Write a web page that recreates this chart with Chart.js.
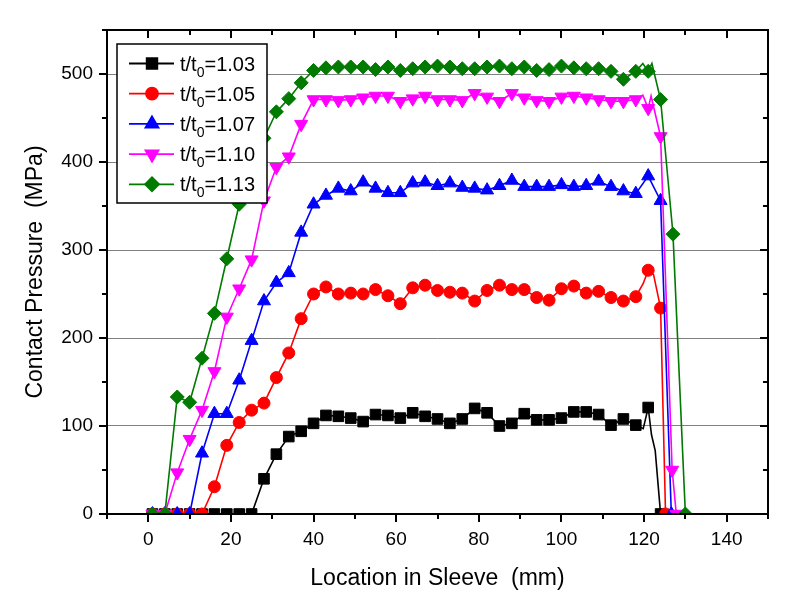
<!DOCTYPE html>
<html>
<head>
<meta charset="utf-8">
<script src="https://cdn.jsdelivr.net/npm/chart.js@4.4.0/dist/chart.umd.min.js"></script>
<style>
  html, body { margin: 0; padding: 0; background: #fff; }
</style>
</head>
<body>
<canvas id="grafico" width="800" height="600"></canvas>
<script>
// Dados (pressão de contato x posição na luva)
const razoes = ['1.03', '1.05', '1.07', '1.10', '1.13'];

const x103 = [1,4,7,10,13,16,19,22,25,28,31,34,37,40,43,46,49,52,55,58,61,64,67,70,73,76,79,82,85,88,91,94,97,100,103,106,109,112,115,118,121,124];
const y103 = [0,0,0,0,0,0,0,0,0,40,68,88,94,103,112,111,109,105,113,112,109,115,111,108,103,108,120,115,100,103,114,107,107,109,116,116,113,101,108,101,121,0];
const x103Linha = [119.8, 121.8, 122.7];
const y103Linha = [97, 90, 72];

const x105 = [1,4,7,10,13,16,19,22,25,28,31,34,37,40,43,46,49,52,55,58,61,64,67,70,73,76,79,82,85,88,91,94,97,100,103,106,109,112,115,118,121,124,125.2];
const y105 = [0,0,0,0,0,31,78,104,118,126,155,183,222,250,258,250,251,250,255,248,239,257,260,254,252,251,242,254,260,255,255,246,243,256,259,251,253,246,242,247,277,234,0];
const x105Linha = [119.8, 122.3];
const y105Linha = [262, 272];

const x107 = [1,4,7,10,13,16,19,22,25,28,31,34,37,40,43,46,49,52,55,58,61,64,67,70,73,76,79,82,85,88,91,94,97,100,103,106,109,112,115,118,121,124,126.6];
const y107 = [0,0,0,0,69,114,114,152,197,242,263,274,320,352,362,370,367,377,370,365,365,376,377,373,376,371,370,368,373,379,372,372,372,374,372,373,378,372,367,364,384,356,0];
const x107Linha = [];
const y107Linha = [];

const x110 = [1,4,7,10,13,16,19,22,25,28,31,34,37,40,43,46,49,52,55,58,61,64,67,70,73,76,79,82,85,88,91,94,97,100,103,106,109,112,115,118,121,124,126.8,127.8];
const y110 = [0,0,47,85,118,162,224,256,289,356,394,406,443,471,471,470,471,473,475,475,469,472,475,471,471,470,478,474,469,478,473,470,469,474,475,473,471,469,469,471,461,429,50,0];
const x110Linha = [119.7, 121.7];
const y110Linha = [476, 475];

const x113 = [1,4,7,10,13,16,19,22,25,28,31,34,37,40,43,46,49,52,55,58,61,64,67,70,73,76,79,82,85,88,91,94,97,100,103,106,109,112,115,118,121,124,127,130];
const y113 = [0,0,133,127,177,228,290,352,392,427,457,472,490,504,507,508,508,508,505,508,504,506,508,509,508,506,506,508,509,506,508,504,505,509,507,506,506,503,494,503,503,471,318,0];
const x113Linha = [119.7, 121.9];
const y113Linha = [512, 512];

const xTicks = [-10, 150];
const yTicks = [0, 550];

// monta os pontos; os pontos "Linha" ficam sem marcador
function montarPontos(xs, ys, xl, yl) {
  const pts = xs.map((x, i) => ({ x: x, y: ys[i], m: true }));
  xl.forEach((x, i) => pts.push({ x: x, y: yl[i], m: false }));
  pts.sort((a, b) => a.x - b.x);
  return pts;
}

const series = [
  { pts: montarPontos(x103, y103, x103Linha, y103Linha), cor: '#000000', estilo: 'rect', raio: 7.5, rot: 0 },
  { pts: montarPontos(x105, y105, x105Linha, y105Linha), cor: '#ff0000', estilo: 'circle', raio: 6, rot: 0 },
  { pts: montarPontos(x107, y107, x107Linha, y107Linha), cor: '#0000ff', estilo: 'triangle', raio: 7.5, rot: 0 },
  { pts: montarPontos(x110, y110, x110Linha, y110Linha), cor: '#ff00ff', estilo: 'triangle', raio: 7.5, rot: 180 },
  { pts: montarPontos(x113, y113, x113Linha, y113Linha), cor: '#007a00', estilo: 'rectRot', raio: 7, rot: 0 }
];

const FONTE = '"Liberation Sans", Arial, sans-serif';

// moldura, marcas dos eixos e legenda
const moldura = {
  id: 'moldura',
  afterDraw(chart) {
    const ctx = chart.ctx;
    const a = chart.chartArea;
    const sx = chart.scales.x, sy = chart.scales.y;
    ctx.save();

    // legenda
    const lx = a.left + 10, ly = a.top + 14;
    ctx.fillStyle = '#fff';
    ctx.fillRect(lx, ly, 150, 159);
    ctx.strokeStyle = '#000';
    ctx.lineWidth = 1.5;
    ctx.strokeRect(lx, ly, 150, 159);
    series.forEach((s, i) => {
      const y = ly + 19.5 + i * 30.2;
      ctx.strokeStyle = s.cor;
      ctx.lineWidth = 1.8;
      ctx.beginPath();
      ctx.moveTo(lx + 12, y);
      ctx.lineTo(lx + 57, y);
      ctx.stroke();
      ctx.fillStyle = s.cor;
      Chart.helpers.drawPoint(ctx, { pointStyle: s.estilo, rotation: s.rot, radius: s.raio, borderWidth: 1 }, lx + 35, y);
      ctx.fillStyle = '#000';
      ctx.textAlign = 'left';
      ctx.textBaseline = 'alphabetic';
      ctx.font = '20px ' + FONTE;
      let tx = lx + 63;
      ctx.fillText('t/t', tx, y + 7);
      tx += ctx.measureText('t/t').width;
      ctx.font = '14px ' + FONTE;
      ctx.fillText('0', tx, y + 13);
      tx += ctx.measureText('0').width;
      ctx.font = '20px ' + FONTE;
      ctx.fillText('=' + razoes[i], tx, y + 7);
    });

    // moldura
    ctx.strokeStyle = '#000';
    ctx.lineWidth = 2;
    ctx.strokeRect(a.left, a.top, a.right - a.left, a.bottom - a.top);

    // marcas: embaixo/esquerda para fora, em cima/direita para dentro
    ctx.beginPath();
    for (let v = xTicks[0]; v <= xTicks[1]; v += 10) {
      const px = Math.round(sx.getPixelForValue(v));
      const len = v % 20 === 0 ? 8 : 5;
      ctx.moveTo(px, a.bottom); ctx.lineTo(px, a.bottom + len);
      ctx.moveTo(px, a.top); ctx.lineTo(px, a.top + len);
    }
    for (let v = yTicks[0]; v <= yTicks[1]; v += 50) {
      const py = Math.round(sy.getPixelForValue(v));
      const len = v % 100 === 0 ? 8 : 5;
      ctx.moveTo(a.left - len, py); ctx.lineTo(a.left, py);
      ctx.moveTo(a.right - len, py); ctx.lineTo(a.right, py);
    }
    ctx.stroke();
    ctx.restore();
  }
};

new Chart(document.getElementById('grafico'), {
  type: 'line',
  data: {
    datasets: series.map((s, i) => ({
      label: 't/t0=' + razoes[i],
      data: s.pts,
      borderColor: s.cor,
      backgroundColor: s.cor,
      borderWidth: 1.6,
      pointStyle: s.estilo,
      pointRotation: s.rot,
      pointRadius: ctx => (ctx.raw && ctx.raw.m ? s.raio : 0),
      pointBorderWidth: 1,
      tension: 0,
      clip: 0,
      order: series.length - 1 - i
    }))
  },
  options: {
    responsive: false,
    animation: false,
    events: [],
    layout: { padding: { left: 0, right: 32, top: 30, bottom: 0 } },
    plugins: { legend: { display: false }, tooltip: { enabled: false } },
    scales: {
      x: {
        type: 'linear',
        min: xTicks[0],
        max: xTicks[1],
        afterFit: s => { s.height = 86; },
        grid: { display: false },
        border: { display: false },
        ticks: {
          stepSize: 10,
          autoSkip: false,
          maxRotation: 0,
          padding: 6,
          color: '#000',
          font: { family: FONTE, size: 19 },
          callback: v => (v % 20 === 0 ? v : '')
        },
        title: {
          display: true,
          text: 'Location in Sleeve  (mm)',
          color: '#000',
          font: { family: FONTE, size: 23 },
          padding: { top: 0, bottom: 8 }
        }
      },
      y: {
        min: yTicks[0],
        max: yTicks[1],
        afterFit: s => { s.width = 107; },
        grid: {
          drawTicks: false,
          lineWidth: 1,
          color: ctx => (ctx.tick && ctx.tick.value % 100 === 0 && ctx.tick.value > 0 ? '#808080' : 'rgba(0,0,0,0)')
        },
        border: { display: false },
        ticks: {
          stepSize: 50,
          autoSkip: false,
          padding: 14,
          color: '#000',
          font: { family: FONTE, size: 19 },
          callback: v => (v % 100 === 0 ? v : '')
        },
        title: {
          display: true,
          text: 'Contact Pressure  (MPa)',
          color: '#000',
          font: { family: FONTE, size: 23 },
          padding: { top: 22, bottom: 0 }
        }
      }
    }
  },
  plugins: [moldura]
});
</script>
</body>
</html>
